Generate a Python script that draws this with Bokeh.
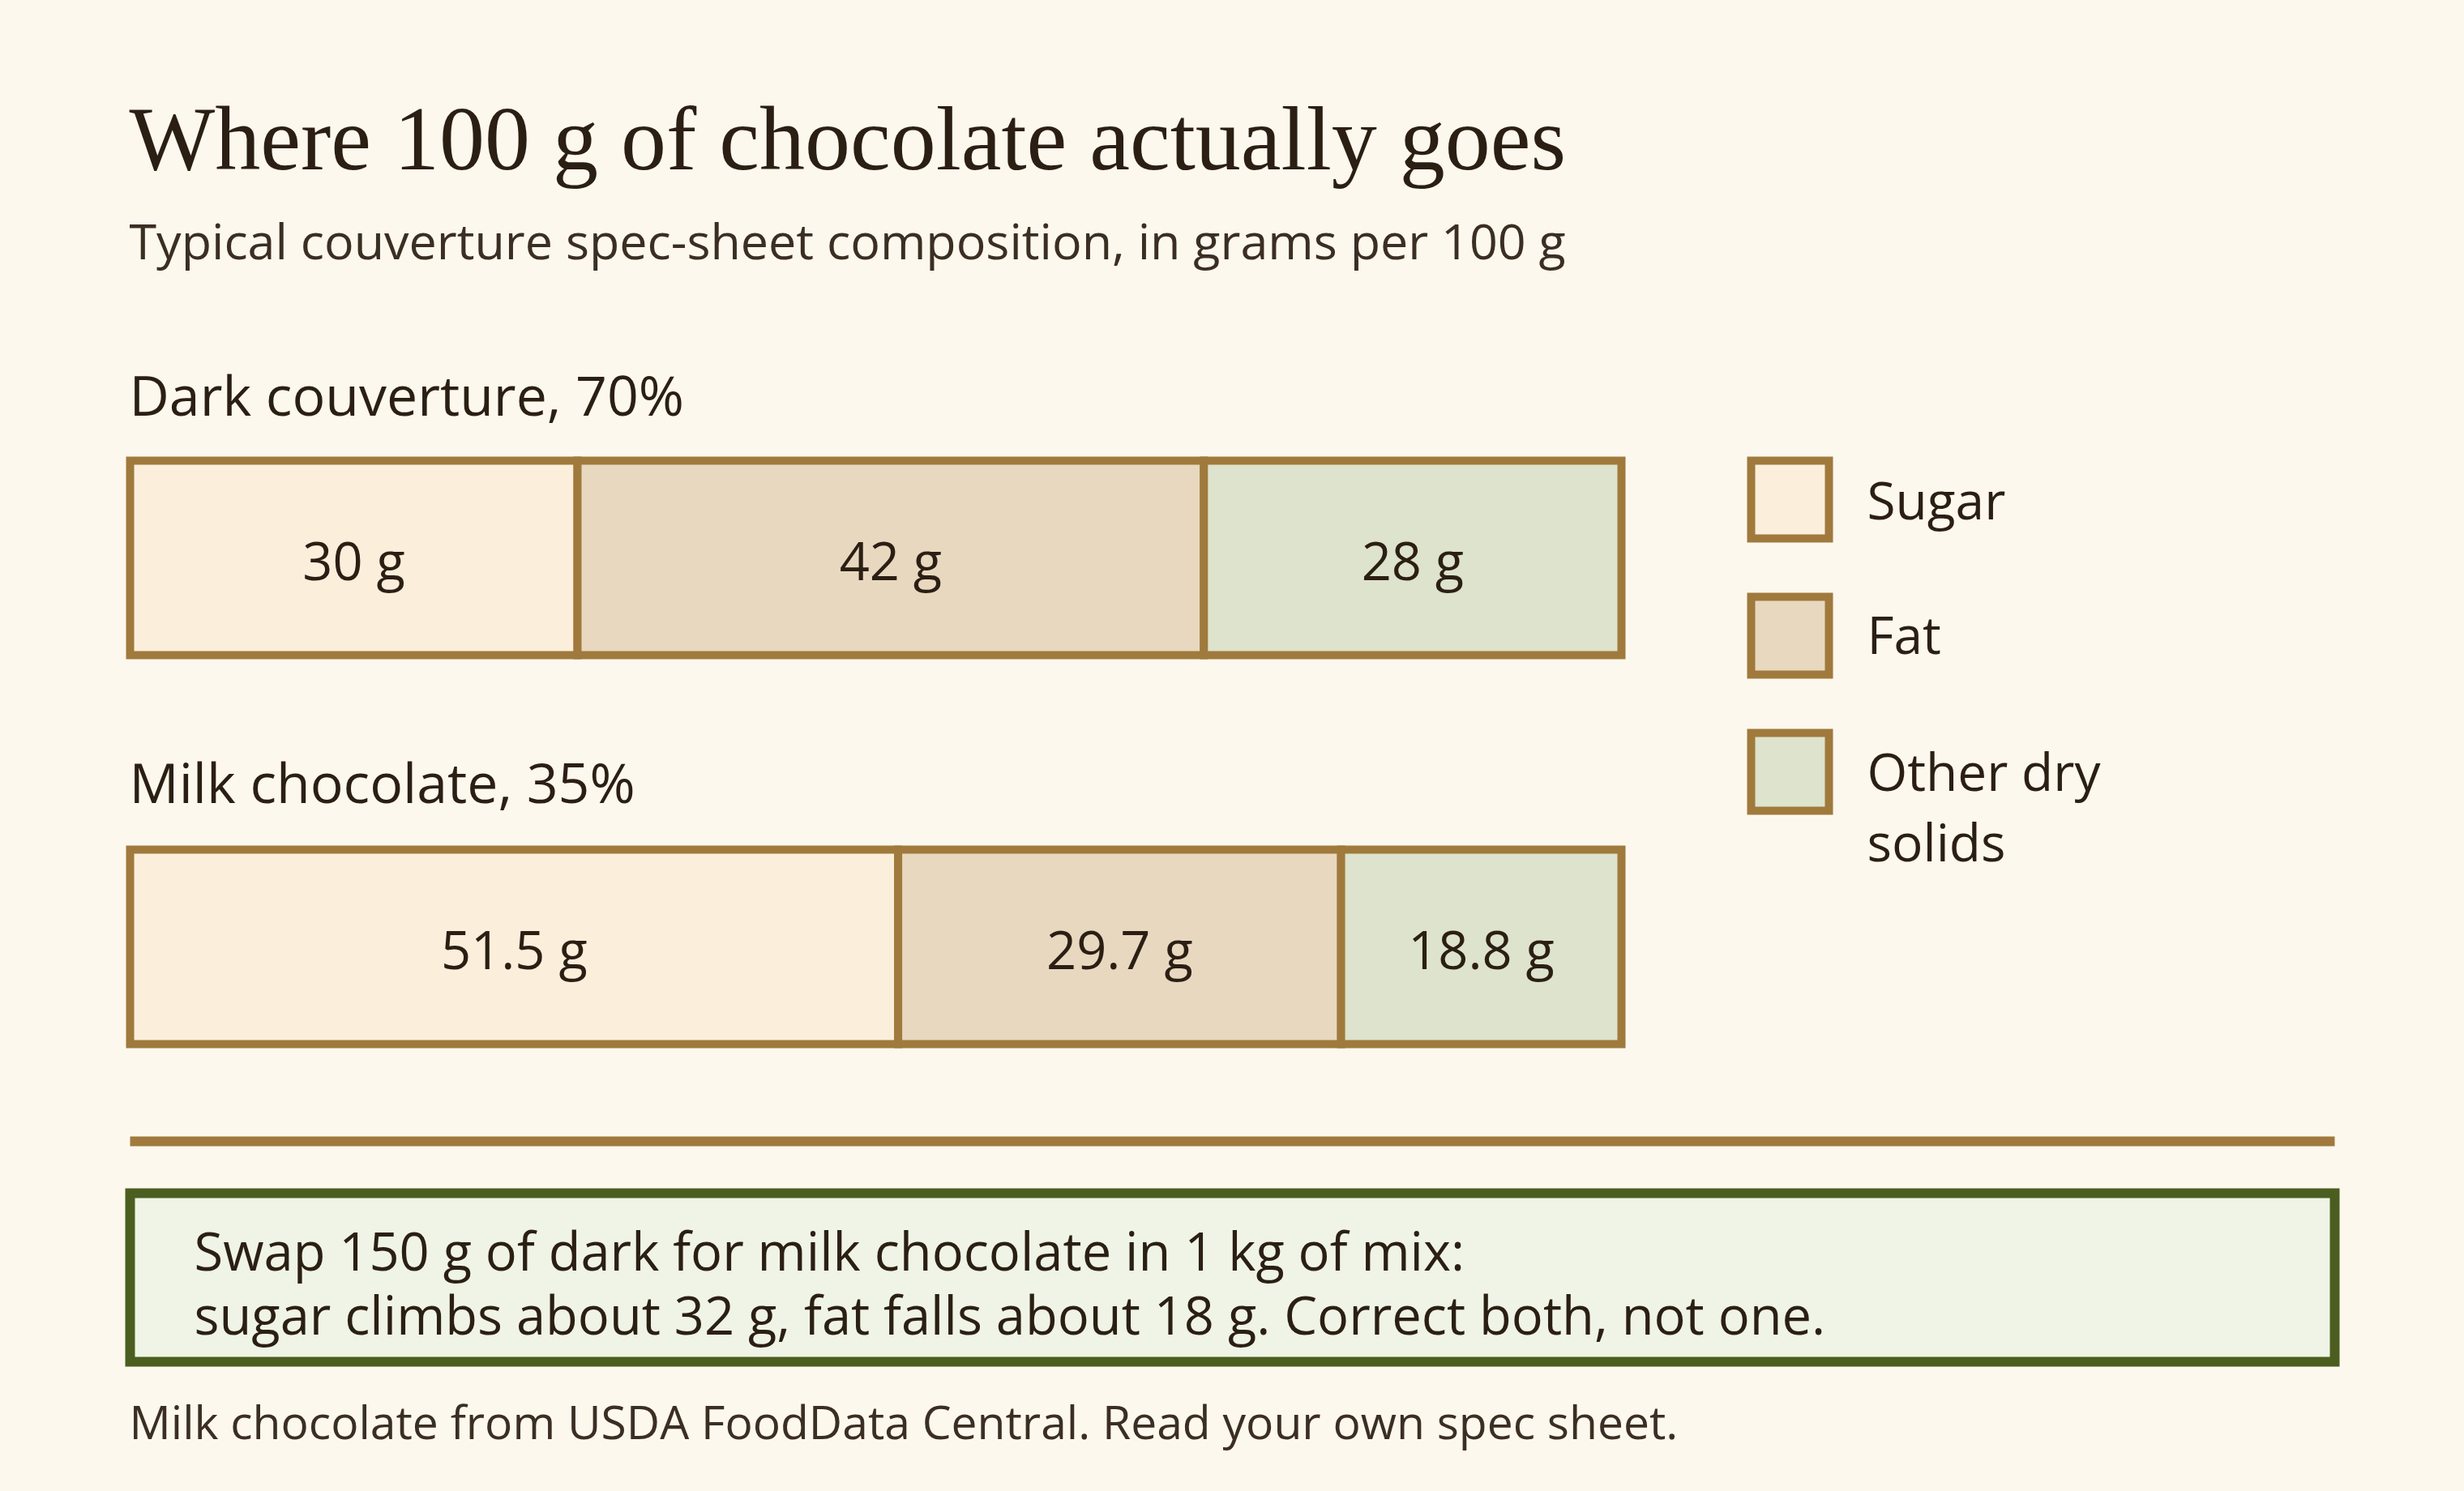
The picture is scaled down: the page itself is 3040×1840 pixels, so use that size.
from bokeh.plotting import figure
from bokeh.models import Range1d
from bokeh.core.properties import value
from bokeh.embed import file_html
from bokeh.resources import INLINE

# ---- data ----
title = "Where 100 g of chocolate actually goes"
subtitle = "Typical couverture spec-sheet composition, in grams per 100 g"
components = ["Sugar", "Fat", "Other dry solids"]
legend_lines = [["Sugar"], ["Fat"], ["Other dry", "solids"]]
products = ["Dark couverture, 70%", "Milk chocolate, 35%"]
dark_grams = [30, 42, 28]
milk_grams = [51.5, 29.7, 18.8]
value_labels = [["30 g", "42 g", "28 g"], ["51.5 g", "29.7 g", "18.8 g"]]
callout_lines = ["Swap 150 g of dark for milk chocolate in 1 kg of mix:",
                 "sugar climbs about 32 g, fat falls about 18 g. Correct both, not one."]
footer = "Milk chocolate from USDA FoodData Central. Read your own spec sheet."

# ---- style ----
BG = "#fdf8ee"
INK = "#2b1f14"
INK2 = "#3b2e22"
STROKE = "#a07a3c"
FILLS = ["#fbeedb", "#e8d8c0", "#dde3cc"]
SANS = "Open Sans"
SERIF = "Liberation Serif"

W, H = 3040, 1840
X0 = 160          # px where 0 g sits
PX_PER_G = 18.4   # px per gram


def gx(px):
    return (px - X0) / PX_PER_G


p = figure(width=W, height=H, output_backend="svg", toolbar_location=None,
           x_range=Range1d(gx(0), gx(W)), y_range=Range1d(H, 0),
           x_axis_type=None, y_axis_type=None, min_border=0,
           background_fill_color=BG, border_fill_color=BG, outline_line_color=None)
p.grid.visible = False


def shift(size, font):
    return (0.35 if font == SERIF else 0.39) * size


def txt(x, base, s, size, color=INK, font=SANS, align="left"):
    p.text(x=[x], y=[base - shift(size, font)], text=[s], text_font=value(font),
           text_font_size="%dpx" % size, text_color=color, text_align=align,
           text_baseline="alphabetic")


LX = 159  # left text edge

# titles
txt(gx(LX), 210, title, 112, INK, SERIF)
txt(gx(LX), 320, subtitle, 61, INK2)

# bars
rows = [dark_grams, milk_grams]
row_tops = [568, 1048]
bar_h = 240
label_base = [513, 991]
VAL = 65
for r, grams in enumerate(rows):
    txt(gx(LX), label_base[r], products[r], 68, INK)
    lefts, rights = [], []
    acc = 0.0
    for g in grams:
        lefts.append(acc)
        acc += g
        rights.append(acc)
    top = row_tops[r]
    p.quad(left=lefts, right=rights, top=[top] * 3, bottom=[top + bar_h] * 3,
           fill_color=FILLS, line_color=STROKE, line_width=10, line_join="miter")
    mids = [(a + b) / 2 for a, b in zip(lefts, rights)]
    p.text(x=mids, y=[top + 148 - shift(VAL, SANS)] * 3, text=value_labels[r],
           text_font=value(SANS), text_font_size="%dpx" % VAL, text_color=INK,
           text_align="center", text_baseline="alphabetic")

# legend
leg_tops = [568, 736, 904]
leg_base = [641, 807, 976]
for i, lines in enumerate(legend_lines):
    t = leg_tops[i]
    p.quad(left=[gx(2160)], right=[gx(2256)], top=[t], bottom=[t + 96],
           fill_color=FILLS[i], line_color=STROKE, line_width=10, line_join="miter")
    for j, s in enumerate(lines):
        txt(gx(2303), leg_base[i] + j * 87, s, 64, INK)

# separator
p.quad(left=[gx(160)], right=[gx(2880)], top=[1402], bottom=[1414],
       fill_color=STROKE, line_color=None)

# callout
p.quad(left=[gx(160)], right=[gx(2880)], top=[1472], bottom=[1680],
       fill_color="#eff4e6", line_color="#4b5e20", line_width=12, line_join="miter")
for j, s in enumerate(callout_lines):
    txt(gx(239), 1568 + j * 79, s, 65, INK)

# footer
txt(gx(LX), 1776, footer, 57, INK2)

html = file_html(p, INLINE)
html = html.replace("<head>", "<head><style>html,body{margin:0;padding:0;overflow:hidden;background:%s;}</style>" % BG, 1)
open("out.html", "w").write(html)
